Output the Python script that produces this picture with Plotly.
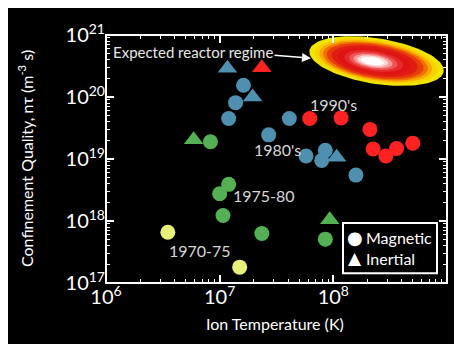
import numpy as np
import plotly.graph_objects as go

# ---- data (ion temperature K, confinement quality m^-3 s) ----
mag_7075_T = [3.5e6, 1.5e7]
mag_7075_nt = [6.6e17, 1.8e17]

mag_7580_T = [8.3e6, 1.2e7, 1.0e7, 1.07e7, 2.35e7, 8.5e7]
mag_7580_nt = [1.9e19, 3.9e18, 2.75e18, 1.23e18, 6.3e17, 5.1e17]

mag_80s_T = [1.62e7, 1.38e7, 1.2e7, 4.1e7, 2.7e7, 5.75e7, 8.5e7, 7.9e7, 1.58e8]
mag_80s_nt = [1.55e20, 8.1e19, 4.5e19, 4.5e19, 2.45e19, 1.12e19, 1.38e19, 9.5e18, 5.5e18]

mag_90s_T = [6.2e7, 1.17e8, 2.1e8, 2.24e8, 2.9e8, 3.6e8, 5.0e8]
mag_90s_nt = [4.5e19, 4.6e19, 3.0e19, 1.45e19, 1.12e19, 1.48e19, 1.8e19]

ine_7580_T = [5.9e6, 9.3e7]
ine_7580_nt = [2.05e19, 1.05e18]

ine_80s_T = [1.17e7, 1.95e7, 1.07e8]
ine_80s_nt = [2.9e20, 1.0e20, 1.07e19]

ine_90s_T = [2.35e7]
ine_90s_nt = [2.95e20]

era_labels = ["1990's", "1980's", "1975-80", "1970-75"]
era_label_T = [1.0e8, 3.2e7, 2.45e7, 6.7e6]
era_label_nt = [7.5e19, 1.45e19, 2.6e18, 3.3e17]

# reactor regime ellipse (center)
reactor_T = 2.4e8
reactor_nt = 3.8e20

C_YEL = "#e8f07a"
C_GRN = "#55b055"
C_BLU = "#4f8fb0"
C_RED = "#ff2222"

FONT = "Lato"

# plot-area geometry in page pixels (page = figure + 8px body margin)
PL, PR, PT, PB = 106, 447, 27, 283
PW, PH = PR - PL, PB - PT
def px(xp):
    return (xp - PL) / PW
def py(yp):
    return (PB - yp) / PH

fig = go.Figure()

# --- ellipse gradient ---
px_per_dec_x = PW / 3.0
px_per_dec_y = PH / 4.0
cx, cy = np.log10(reactor_T), np.log10(reactor_nt)
theta = np.deg2rad(-9.3)
t = np.linspace(0, 2 * np.pi, 120)
layers = [
    (1.00, "#f0e400"),
    (0.91, "#f6d200"),
    (0.84, "#f8a800"),
    (0.78, "#f07000"),
    (0.72, "#e83c0c"),
    (0.64, "#e01c12"),
    (0.54, "#de1414"),
    (0.44, "#e62a2a"),
    (0.36, "#ee5656"),
    (0.29, "#f69a9a"),
    (0.23, "#fdd6d6"),
    (0.17, "#ffffff"),
]
a0, b0 = 68.0, 23.5
for s, col in layers:
    a, b = a0 * s, b0 * s
    off = (1 - s) * -5.0
    ex = a * np.cos(t)
    ey = b * np.sin(t)
    rx = ex * np.cos(theta) - ey * np.sin(theta) + off
    ry = ex * np.sin(theta) + ey * np.cos(theta)
    lx = cx + rx / px_per_dec_x
    ly = cy + ry / px_per_dec_y
    fig.add_trace(go.Scatter(x=10 ** lx, y=10 ** ly, mode="lines", fill="toself",
                             fillcolor=col, line=dict(width=0, color=col),
                             hoverinfo="skip", showlegend=False))

def add_pts(T, nt, color, symbol, size):
    fig.add_trace(go.Scatter(x=T, y=nt, mode="markers",
                             marker=dict(color=color, symbol=symbol, size=size, line=dict(width=0)),
                             showlegend=False))

add_pts(mag_7075_T, mag_7075_nt, C_YEL, "circle", 15)
add_pts(mag_7580_T, mag_7580_nt, C_GRN, "circle", 15)
add_pts(mag_80s_T, mag_80s_nt, C_BLU, "circle", 15)
add_pts(mag_90s_T, mag_90s_nt, C_RED, "circle", 15)
add_pts(ine_7580_T, ine_7580_nt, C_GRN, "triangle-up", 17)
add_pts(ine_80s_T, ine_80s_nt, C_BLU, "triangle-up", 17)
add_pts(ine_90s_T, ine_90s_nt, C_RED, "triangle-up", 17)

# invisible carrier traces so the extra tick axes are drawn
for ax_x, ax_y in [("x2", "y2"), ("x3", "y3"), ("x4", "y4")]:
    fig.add_trace(go.Scatter(x=mag_7075_T, y=mag_7075_nt, mode="markers", xaxis=ax_x, yaxis=ax_y,
                             marker=dict(opacity=0, size=1), hoverinfo="skip", showlegend=False))

annotations = []
for lab, T, nt in zip(era_labels, era_label_T, era_label_nt):
    annotations.append(dict(x=np.log10(T), y=np.log10(nt), text=lab, showarrow=False,
                            xanchor="center", yanchor="middle",
                            font=dict(family=FONT, size=16, color="#d8d8d8")))

# expected reactor regime
annotations.append(dict(x=px(111), y=py(45), xref="paper", yref="paper", xanchor="left",
                        yanchor="middle", text="Expected reactor regime", showarrow=False,
                        font=dict(family=FONT, size=15, color="#e8e8e8")))
annotations.append(dict(x=px(311), y=py(51), xref="paper", yref="paper",
                        ax=-38, ay=-3, axref="pixel", ayref="pixel",
                        text="", showarrow=True, arrowhead=2, arrowsize=1.2, arrowwidth=1.5,
                        arrowcolor="white"))

# axis titles
annotations.append(dict(x=px(25), y=py(155), xref="paper", yref="paper",
                        xanchor="center", yanchor="middle",
                        text="Confinement Quality, nτ (m<sup>-3</sup> s)", textangle=-90,
                        showarrow=False, font=dict(family=FONT, size=16, color="white")))
annotations.append(dict(x=px(275), y=py(325), xref="paper", yref="paper",
                        xanchor="center", yanchor="middle",
                        text="Ion Temperature (K)", showarrow=False,
                        font=dict(family=FONT, size=16, color="white")))

# legend (manual)
annotations.append(dict(x=px(355), y=py(236), xref="paper", yref="paper",
                        xanchor="center", yanchor="middle",
                        text="●", showarrow=False, font=dict(family="DejaVu Sans", size=18, color="white")))
annotations.append(dict(x=px(355), y=py(257), xref="paper", yref="paper",
                        xanchor="center", yanchor="middle",
                        text="▲", showarrow=False, font=dict(family="DejaVu Sans", size=17, color="white")))
annotations.append(dict(x=px(364), y=py(236), xref="paper", yref="paper",
                        xanchor="left", yanchor="middle", text="Magnetic", showarrow=False,
                        font=dict(family=FONT, size=16, color="white")))
annotations.append(dict(x=px(364), y=py(258), xref="paper", yref="paper",
                        xanchor="left", yanchor="middle", text="Inertial", showarrow=False,
                        font=dict(family=FONT, size=16, color="white")))

shapes = [
    dict(type="rect", xref="paper", yref="paper", x0=0, x1=1, y0=0, y1=1,
         line=dict(color="white", width=2), layer="above"),
    dict(type="rect", xref="paper", yref="paper", x0=px(343), x1=px(437),
         y0=py(273), y1=py(221), fillcolor="black",
         line=dict(color="white", width=2), layer="above"),
]

def major(side):
    return dict(type="log", dtick=1, exponentformat="power", showgrid=False, zeroline=False,
                ticks="inside", ticklen=8, tickwidth=1.5, tickcolor="white",
                showline=False, side=side,
                tickfont=dict(family=FONT, size=16, color="white"))

def minor(side):
    return dict(type="log", dtick="D1", showgrid=False, zeroline=False, showticklabels=False,
                ticks="inside", ticklen=4, tickwidth=1, tickcolor="white",
                showline=False, side=side)

fig.update_layout(
    width=454, height=336,
    margin=dict(l=PL - 8, r=454 - (PR - 8), t=PT - 8, b=336 - (PB - 8)),
    paper_bgcolor="black", plot_bgcolor="black",
    showlegend=False,
    xaxis=dict(range=[6, 9], **major("bottom")),
    yaxis=dict(range=[17, 21], **major("left")),
    xaxis2=dict(range=[6, 9], overlaying="x", anchor="y", **minor("bottom")),
    yaxis2=dict(range=[17, 21], overlaying="y", anchor="x", **minor("left")),
    xaxis3=dict(range=[6, 9], overlaying="x", anchor="y", **dict(major("top"), showticklabels=False)),
    yaxis3=dict(range=[17, 21], overlaying="y", anchor="x", **dict(major("right"), showticklabels=False)),
    xaxis4=dict(range=[6, 9], overlaying="x", anchor="y", **minor("top")),
    yaxis4=dict(range=[17, 21], overlaying="y", anchor="x", **minor("right")),
    annotations=annotations,
    shapes=shapes,
)

fig.write_html("out.html")
